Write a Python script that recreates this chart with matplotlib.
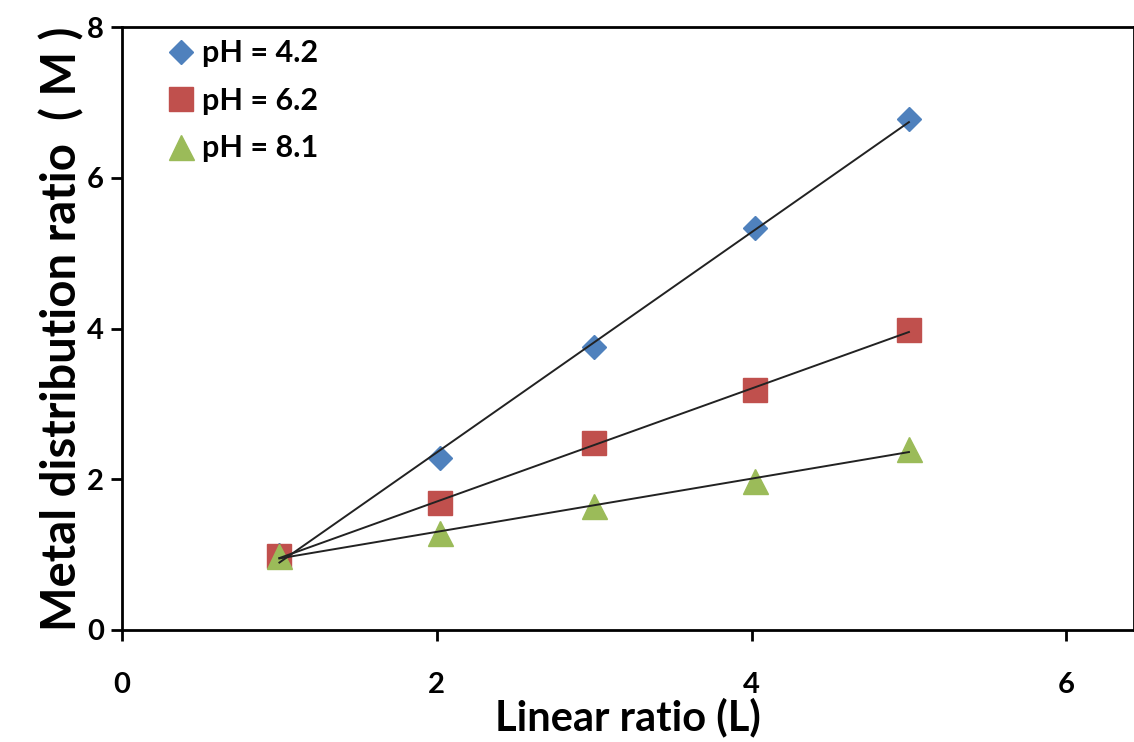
import numpy as np
import matplotlib
matplotlib.use("Agg")
import matplotlib.pyplot as plt

plt.rcParams['font.family'] = ['Lato', 'DejaVu Sans']
plt.rcParams['font.weight'] = 'bold'

# ── Data ──────────────────────────────────────────────────────────────────────
x_42 = [1.0, 2.02, 3.0, 4.02, 5.0]
y_42 = [1.0, 2.28, 3.75, 5.33, 6.78]

x_62 = [1.0, 2.02, 3.0, 4.02, 5.0]
y_62 = [0.98, 1.68, 2.48, 3.18, 3.98]

x_81 = [1.0, 2.02, 3.0, 4.02, 5.0]
y_81 = [0.98, 1.29, 1.64, 1.98, 2.40]

labels = ["pH = 4.2", "pH = 6.2", "pH = 8.1"]

# ── Plot ──────────────────────────────────────────────────────────────────────
fig = plt.figure(figsize=(11.34, 7.42), dpi=100)
ax = fig.add_axes([122 / 1134, 112 / 742, 1 - 122 / 1134, 603 / 742])

series = [
    (x_42, y_42, "D", "#4f81bd", 12, labels[0]),
    (x_62, y_62, "s", "#c0504d", 17, labels[1]),
    (x_81, y_81, "^", "#9bbb59", 18, labels[2]),
]

for xs, ys, mk, col, ms, lab in series:
    ax.plot(xs, ys, ls="none", marker=mk, color=col, ms=ms, label=lab, zorder=2)

# linear trend lines through each series
for xs, ys, mk, col, ms, lab in series:
    k, b = np.polyfit(xs, ys, 1)
    xx = np.array([xs[0], xs[-1]])
    ax.plot(xx, k * xx + b, color="#222222", lw=1.4, zorder=3)

ax.set_xlim(0, 6.43)
ax.set_ylim(0, 8)
ax.set_xticks([0, 2, 4, 6])
ax.set_yticks([0, 2, 4, 6, 8])
ax.tick_params(direction="out", length=8, width=2, labelsize=21)
ax.tick_params(axis="x", pad=22)
ax.tick_params(axis="y", pad=5)
for s in ax.spines.values():
    s.set_linewidth(2)

ax.set_xlabel("Linear ratio (L)", fontsize=30, fontweight="bold", labelpad=0)
ax.set_ylabel("Metal distribution ratio  ( M )", fontsize=34, fontweight="bold", labelpad=2)

ax.legend(loc="upper left", frameon=False, fontsize=22, handlelength=1.0,
          handletextpad=0.2, borderaxespad=0, labelspacing=0.64,
          bbox_to_anchor=(0.031, 1.0))

fig.savefig("out.png", dpi=100)
